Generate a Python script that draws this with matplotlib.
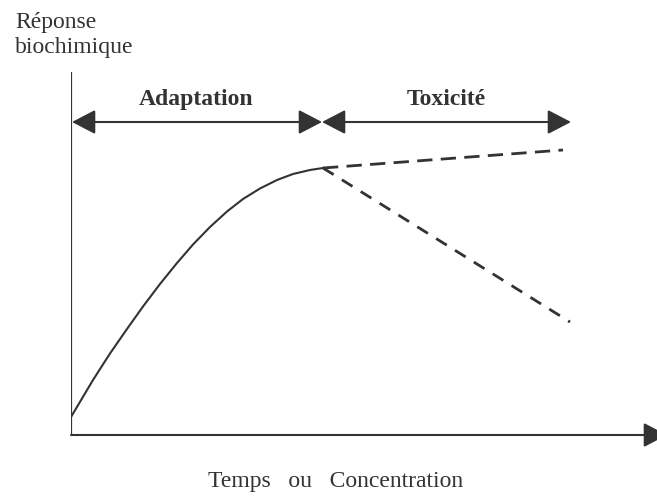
import matplotlib
matplotlib.use("Agg")
import matplotlib.pyplot as plt
from matplotlib.patches import FancyArrowPatch

# --- data (abstract units: x = time/concentration, y = biochemical response)
curve_x = [0, 22, 39, 56, 72, 89, 106, 122, 139, 156, 172, 189, 206, 222, 239, 252]
curve_y = [18, 55, 81.5, 106, 128.5, 151, 172, 190.5, 208, 223.5, 236, 246.5, 255, 261, 265, 267]
upper_x = [252, 492]
upper_y = [267, 285]
lower_x = [252, 499]
lower_y = [267, 113]
phase_labels = ["Adaptation", "Toxicité"]
phase_bounds = [1, 251, 500]
phase_y = 313
ylabel_lines = ["Réponse", "biochimique"]
xlabel = "Temps   ou   Concentration"

col = "#333333"
fig = plt.figure(figsize=(6.57, 4.96), dpi=100)
ax = fig.add_axes([71 / 657, 61 / 496, 586 / 657, 435 / 496])
ax.set_xlim(0, 586)
ax.set_ylim(0, 435)
ax.axis("off")

# axes
ax.plot([0, 0], [0, 363], color=col, lw=1.6, solid_capstyle="butt")
ax.add_patch(FancyArrowPatch((0, 0), (596, 0),
                             arrowstyle="-|>,head_length=14.4,head_width=7.5",
                             mutation_scale=1, color=col, lw=1.5,
                             shrinkA=0, shrinkB=0, clip_on=False))

# curves
ax.plot(curve_x, curve_y, color=col, lw=1.5, solid_joinstyle="round")
ax.plot(upper_x, upper_y, color=col, lw=2.0, linestyle=(0, (5.5, 3)))
ax.plot(lower_x, lower_y, color=col, lw=2.0, linestyle=(0, (4.5, 3.5)))

# phase arrows
for i, lab in enumerate(phase_labels):
    x0, x1 = phase_bounds[i], phase_bounds[i + 1]
    ax.add_patch(FancyArrowPatch((x0, phase_y), (x1, phase_y),
                                 arrowstyle="<|-|>,head_length=14.4,head_width=7.5",
                                 mutation_scale=1, color=col, lw=1.5,
                                 shrinkA=0, shrinkB=0))
    cx = [125.5, 375][i]
    ax.text(cx, 330, lab, ha="center", va="baseline", fontsize=17,
            fontweight="bold", family="Liberation Serif", color=col)

# labels
fig.text(15 / 657, 1 - 28 / 496, ylabel_lines[0], ha="left", va="baseline",
         fontsize=17, family="Liberation Serif", color=col)
fig.text(15 / 657, 1 - 53 / 496, ylabel_lines[1], ha="left", va="baseline",
         fontsize=17, family="Liberation Serif", color=col)
fig.text(336 / 657, 1 - 487 / 496, xlabel, ha="center", va="baseline",
         fontsize=17, family="Liberation Serif", color=col)

fig.savefig("out.png", dpi=100)
